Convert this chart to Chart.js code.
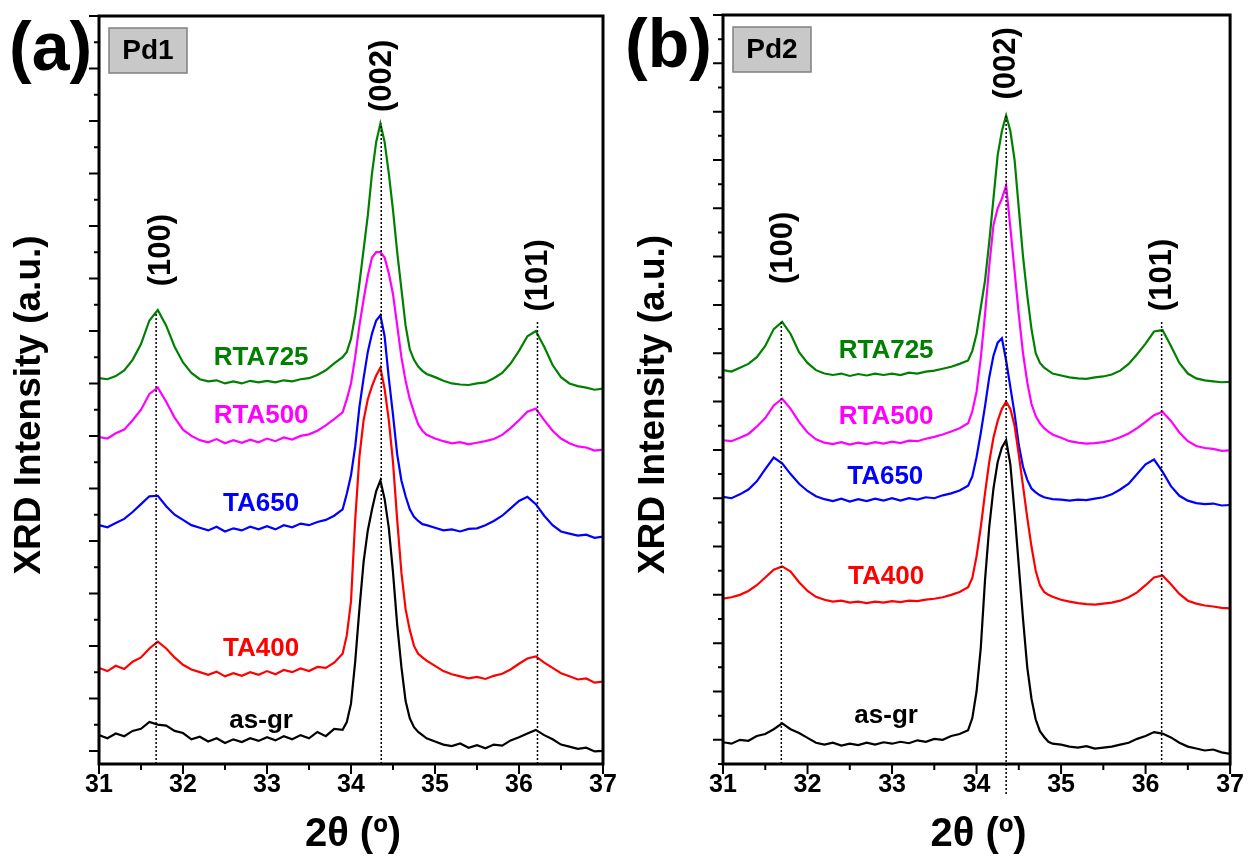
<!DOCTYPE html>
<html>
<head>
<meta charset="utf-8">
<script src="https://cdn.jsdelivr.net/npm/chart.js@4.4.0/dist/chart.umd.min.js"></script>
<style>
  html, body { margin: 0; padding: 0; background: #fff; }
  #wrap { position: relative; width: 1250px; height: 865px; }
  canvas { position: absolute; top: 0; }
  #grafA { left: 0; }
  #grafB { left: 625px; }
</style>
</head>
<body>
<div id="wrap">
  <canvas id="grafA" width="625" height="865"></canvas>
  <canvas id="grafB" width="625" height="865"></canvas>
</div>
<script>
// 2-theta grid (deg), shared by every scan
const xGrid = [31.0,31.1,31.2,31.3,31.4,31.5,31.6,31.7,31.8,31.9,32.0,32.1,32.2,32.3,32.4,32.5,32.6,32.7,32.8,32.9,33.0,33.1,33.2,33.3,33.4,33.5,33.6,33.7,33.8,33.9,
  33.95,34.0,34.05,34.1,34.15,34.2,34.25,34.3,34.35,34.4,34.45,34.5,34.55,34.6,34.65,34.7,34.75,34.8,34.85,
  34.9,35.0,35.1,35.2,35.3,35.4,35.5,35.6,35.7,35.8,35.9,36.0,36.1,36.2,36.3,36.4,36.5,36.6,36.7,36.8,36.9,37.0];

const sampleNames = ['as-gr', 'TA400', 'TA650', 'RTA500', 'RTA725'];
const sampleColors = ['#000000', '#ff0000', '#0000ff', '#ff00ff', '#008000'];
const peakNames = ['(100)', '(002)', '(101)'];

// Pd1 (a) - stacked intensities
const aAsGr = [0.30,0.24,0.33,0.28,0.38,0.42,0.55,0.50,0.48,0.38,0.34,0.22,0.27,0.18,0.24,0.15,0.22,0.17,0.24,0.19,0.26,0.20,0.28,0.22,0.30,0.24,0.36,0.28,0.42,0.40,
  0.55,0.9,1.7,2.7,3.6,4.2,4.6,4.95,5.15,4.8,4.25,3.4,2.4,1.6,0.95,0.62,0.45,0.36,0.30,
  0.24,0.18,0.12,0.09,0.14,0.06,0.11,0.05,0.12,0.10,0.20,0.26,0.33,0.40,0.30,0.22,0.12,0.08,0.04,0.06,-0.01,0.0];
const aTA400 = [1.58,1.52,1.62,1.56,1.70,1.78,1.95,2.08,1.95,1.78,1.64,1.55,1.50,1.45,1.51,1.42,1.48,1.43,1.50,1.45,1.52,1.46,1.54,1.50,1.57,1.52,1.60,1.58,1.68,1.85,
  2.2,2.85,4.4,5.6,6.3,6.7,6.95,7.15,7.3,6.9,6.3,5.5,4.4,3.4,2.7,2.3,2.0,1.85,1.78,
  1.72,1.62,1.52,1.46,1.42,1.38,1.41,1.37,1.43,1.47,1.55,1.66,1.76,1.80,1.68,1.58,1.48,1.42,1.36,1.38,1.30,1.32];
const aTA650 = [4.30,4.26,4.34,4.42,4.55,4.70,4.85,4.86,4.66,4.50,4.40,4.30,4.25,4.20,4.27,4.18,4.24,4.20,4.27,4.22,4.28,4.22,4.30,4.26,4.33,4.30,4.36,4.40,4.48,4.60,
  4.9,5.25,5.8,6.55,7.1,7.6,7.95,8.2,8.3,7.9,7.1,6.4,5.65,5.15,4.85,4.6,4.46,4.38,4.32,
  4.30,4.25,4.20,4.22,4.18,4.23,4.24,4.30,4.38,4.48,4.62,4.76,4.84,4.70,4.48,4.30,4.18,4.14,4.10,4.12,4.06,4.08];
const aRTA500 = [5.98,5.95,6.05,6.12,6.30,6.50,6.80,6.92,6.65,6.35,6.12,6.00,5.92,5.88,5.94,5.86,5.92,5.87,5.93,5.88,5.95,5.90,5.97,5.93,6.00,6.03,6.10,6.20,6.32,6.45,
  6.7,7.0,7.5,8.1,8.6,9.05,9.4,9.5,9.5,9.4,9.1,8.7,8.1,7.5,7.05,6.7,6.45,6.22,6.10,
  6.02,5.95,5.90,5.86,5.88,5.84,5.87,5.90,5.94,6.02,6.15,6.30,6.46,6.52,6.30,6.10,5.95,5.86,5.80,5.78,5.72,5.74];
const aRTA725 = [7.10,7.08,7.14,7.25,7.45,7.75,8.20,8.40,8.10,7.70,7.40,7.20,7.08,7.04,7.06,7.00,7.04,7.00,7.05,7.02,7.05,7.02,7.06,7.04,7.08,7.10,7.16,7.25,7.38,7.50,
  7.6,7.85,8.3,8.9,9.55,10.2,11.0,11.6,11.95,11.6,11.0,10.3,9.5,8.8,8.1,7.65,7.45,7.32,7.24,
  7.18,7.12,7.05,7.00,6.98,6.97,7.00,7.02,7.10,7.20,7.38,7.62,7.90,8.00,7.70,7.35,7.12,7.00,6.95,6.92,6.88,6.90];

// Pd2 (b)
const bAsGr = [-0.05,-0.08,0.00,-0.02,0.08,0.12,0.22,0.34,0.22,0.14,0.04,-0.06,-0.10,-0.06,-0.12,-0.08,-0.11,-0.06,-0.10,-0.05,-0.08,-0.04,-0.07,-0.01,-0.04,0.02,0.00,0.08,0.12,0.20,
  0.45,1.0,1.9,3.3,4.4,5.2,5.75,6.05,6.2,5.7,4.7,3.6,2.5,1.5,0.85,0.42,0.18,0.06,-0.04,
  -0.08,-0.10,-0.14,-0.16,-0.13,-0.18,-0.16,-0.14,-0.10,-0.06,0.02,0.08,0.16,0.13,0.05,-0.06,-0.14,-0.18,-0.22,-0.20,-0.26,-0.29];
const bTA400 = [2.92,2.95,3.00,3.08,3.20,3.36,3.52,3.59,3.48,3.26,3.08,2.96,2.90,2.86,2.88,2.84,2.86,2.83,2.86,2.84,2.87,2.85,2.88,2.87,2.90,2.92,2.95,3.00,3.06,3.16,
  3.35,3.8,4.4,5.1,5.75,6.25,6.6,6.85,7.0,6.85,6.5,5.9,5.25,4.6,4.0,3.5,3.2,3.06,3.0,
  2.96,2.90,2.86,2.83,2.81,2.80,2.82,2.84,2.88,2.95,3.05,3.20,3.36,3.40,3.22,3.02,2.88,2.82,2.78,2.76,2.73,2.72];
const bTA650 = [5.03,5.00,5.08,5.18,5.35,5.60,5.84,5.72,5.50,5.30,5.15,5.04,4.98,4.94,4.99,4.93,4.98,4.94,4.99,4.95,5.00,4.95,5.00,4.97,5.02,5.00,5.06,5.10,5.16,5.26,
  5.45,5.85,6.35,6.9,7.5,7.95,8.22,8.31,7.85,7.3,6.75,6.1,5.65,5.38,5.2,5.12,5.06,5.02,5.0,
  4.98,4.97,4.95,4.97,4.96,4.99,5.02,5.08,5.18,5.30,5.50,5.70,5.80,5.55,5.25,5.05,4.95,4.90,4.88,4.89,4.85,4.86];
const bRTA500 = [6.20,6.18,6.25,6.33,6.48,6.66,6.92,7.06,6.85,6.58,6.36,6.22,6.15,6.12,6.16,6.11,6.15,6.12,6.16,6.13,6.17,6.14,6.19,6.18,6.23,6.27,6.32,6.38,6.45,6.55,
  6.8,7.2,7.9,8.8,9.8,10.65,11.0,11.2,11.47,10.6,9.7,8.8,8.0,7.4,6.95,6.7,6.55,6.45,6.38,
  6.32,6.25,6.18,6.15,6.13,6.14,6.16,6.20,6.26,6.34,6.45,6.58,6.72,6.79,6.60,6.36,6.18,6.08,6.04,6.02,5.98,5.99];
const bRTA725 = [7.65,7.62,7.70,7.78,7.92,8.15,8.50,8.65,8.40,8.02,7.80,7.65,7.58,7.55,7.58,7.53,7.57,7.54,7.58,7.55,7.58,7.55,7.60,7.58,7.62,7.64,7.68,7.72,7.78,7.85,
  8.05,8.4,8.95,9.5,10.3,11.2,12.1,12.6,12.92,12.6,12.0,11.0,10.0,9.2,8.5,8.0,7.8,7.7,7.64,
  7.58,7.54,7.50,7.48,7.47,7.50,7.52,7.56,7.64,7.78,7.98,8.20,8.45,8.48,8.15,7.80,7.58,7.48,7.44,7.42,7.40,7.41];

// peak positions and where their dotted markers stop
const aPeakPos = [31.68, 34.36, 36.22];
const aPeakTop = [8.34, 11.95, 8.2];
const bPeakPos = [31.69, 34.35, 36.19];
const bPeakTop = [8.69, 12.93, 8.69];

Chart.defaults.font.family = "'Liberation Sans', Arial, sans-serif";
Chart.defaults.color = '#000';

const FAM = "'Liberation Sans', Arial, sans-serif";

// frame, ticks, reference lines and annotations
const panelPlugin = {
  id: 'panel',
  afterDatasetsDraw(chart, args, o) {
    const { ctx, chartArea: a, scales: { x, y } } = chart;
    ctx.save();

    // dotted lines at peak positions
    ctx.setLineDash([2, 2]);
    ctx.lineWidth = 1.5;
    ctx.strokeStyle = '#000';
    o.peakPos.forEach((p, i) => {
      const px = x.getPixelForValue(p);
      ctx.beginPath();
      ctx.moveTo(px, a.bottom + (o.below[i] || 0));
      ctx.lineTo(px, y.getPixelForValue(o.peakTop[i]));
      ctx.stroke();
    });
    ctx.setLineDash([]);

    // box
    ctx.lineWidth = 3;
    ctx.strokeRect(a.left, a.top, a.right - a.left, a.bottom - a.top);

    // major + minor tick marks, outside
    ctx.lineWidth = 2;
    ctx.beginPath();
    x.ticks.forEach(t => {
      const px = x.getPixelForValue(t.value);
      ctx.moveTo(px, a.bottom); ctx.lineTo(px, a.bottom + 10);
      if (t.value + 0.5 < x.max) {
        const m = x.getPixelForValue(t.value + 0.5);
        ctx.moveTo(m, a.bottom); ctx.lineTo(m, a.bottom + 6);
      }
    });
    y.ticks.forEach((t, i) => {
      const py = y.getPixelForValue(t.value);
      ctx.moveTo(a.left, py); ctx.lineTo(a.left - 10, py);
      const mins = [t.value + 0.5];
      if (i === 0) mins.push(t.value - 0.5);
      mins.forEach(v => {
        if (v > y.max || v < y.min) return;
        const m = y.getPixelForValue(v);
        ctx.moveTo(a.left, m); ctx.lineTo(a.left - 5, m);
      });
    });
    ctx.stroke();

    // axis titles
    ctx.fillStyle = '#000';
    ctx.textAlign = 'center';
    ctx.textBaseline = 'middle';
    ctx.save();
    ctx.translate(a.left - 69, (a.top + a.bottom) / 2 + 15);
    ctx.rotate(-Math.PI / 2);
    ctx.font = 'bold 37px ' + FAM;
    ctx.fillText('XRD Intensity (a.u.)', 0, 0);
    ctx.restore();

    ctx.font = 'bold 40px ' + FAM;
    ctx.textBaseline = 'alphabetic';
    ctx.fillText('2θ (º)', (a.left + a.right) / 2 + 2, a.bottom + 82);
    ctx.textBaseline = 'middle';

    // hkl labels
    ctx.font = 'bold 31px ' + FAM;
    o.peakText.forEach((p, i) => {
      ctx.save();
      ctx.translate(x.getPixelForValue(p[0]), y.getPixelForValue(p[1]));
      ctx.rotate(-Math.PI / 2);
      ctx.fillText(peakNames[i], 0, 0);
      ctx.restore();
    });

    // sample names
    ctx.font = 'bold 26px ' + FAM;
    o.sampleText.forEach((p, i) => {
      ctx.fillStyle = sampleColors[i];
      ctx.fillText(sampleNames[i], x.getPixelForValue(p[0]), y.getPixelForValue(p[1]));
    });

    // Pd box
    const bx = a.left + 10, by = a.top + 12, bw = 78, bh = 45;
    ctx.fillStyle = '#c8c8c8';
    ctx.fillRect(bx, by, bw, bh);
    ctx.strokeStyle = '#808080';
    ctx.lineWidth = 1.5;
    ctx.strokeRect(bx, by, bw, bh);
    ctx.fillStyle = '#000';
    ctx.font = 'bold 28px ' + FAM;
    ctx.fillText(o.boxText, bx + bw / 2, by + bh / 2 + 1);

    // panel tag
    ctx.textAlign = 'left';
    ctx.textBaseline = 'alphabetic';
    ctx.font = 'bold 68px ' + FAM;
    ctx.fillText(o.tag, o.tagX, o.tagY);

    ctx.restore();
  }
};

function makePanel(id, series, yMin, yMax, leftW, padTop, padRight, opts) {
  return new Chart(document.getElementById(id), {
    type: 'line',
    data: {
      datasets: series.map((s, i) => ({
        label: sampleNames[i],
        data: xGrid.map((xv, j) => ({ x: xv, y: s[j] })),
        borderColor: sampleColors[i],
        borderWidth: 2.2,
        pointRadius: 0,
        tension: 0,
        fill: false
      }))
    },
    options: {
      responsive: false,
      animation: false,
      devicePixelRatio: 1,
      layout: { padding: { top: padTop, right: padRight, left: 0, bottom: 0 } },
      plugins: {
        legend: { display: false },
        tooltip: { enabled: false },
        panel: opts
      },
      scales: {
        x: {
          type: 'linear',
          min: 31,
          max: 37,
          grid: { display: false, drawTicks: false },
          border: { display: false },
          ticks: { stepSize: 1, padding: 6, color: '#000', font: { size: 25, weight: 'bold' } },
          afterFit: s => { s.height = 101; }
        },
        y: {
          type: 'linear',
          min: yMin,
          max: yMax,
          grid: { display: false, drawTicks: false },
          border: { display: false },
          ticks: { display: false, stepSize: 1, includeBounds: false },
          afterFit: s => { s.width = leftW; }
        }
      }
    },
    plugins: [panelPlugin]
  });
}

//Panel (a) Pd1
const chartA = makePanel('grafA', [aAsGr, aTA400, aTA650, aRTA500, aRTA725], -0.25, 14, 99, 16, 22, {
  peakPos: aPeakPos,
  peakTop: aPeakTop,
  below: [0, 0, 0],
  peakText: [[31.74, 9.54], [34.37, 12.86], [36.23, 9.06]],
  sampleText: [[32.93, 0.58], [32.93, 1.95], [32.93, 4.7], [32.93, 6.38], [32.93, 7.48]],
  boxText: 'Pd1',
  tag: '(a)', tagX: 9, tagY: 70
});

//Panel (b) Pd2
const chartB = makePanel('grafB', [bAsGr, bTA400, bTA650, bRTA500, bRTA725], -0.5, 15, 98, 15, 17, {
  peakPos: bPeakPos,
  peakTop: bPeakTop,
  below: [0, 30, 0],
  peakText: [[31.71, 10.18], [34.35, 14.0], [36.2, 9.62]],
  sampleText: [[32.93, 0.5], [32.93, 3.37], [32.92, 5.44], [32.93, 6.68], [32.93, 8.06]],
  boxText: 'Pd2',
  tag: '(b)', tagX: 0, tagY: 67
});
</script>
</body>
</html>
